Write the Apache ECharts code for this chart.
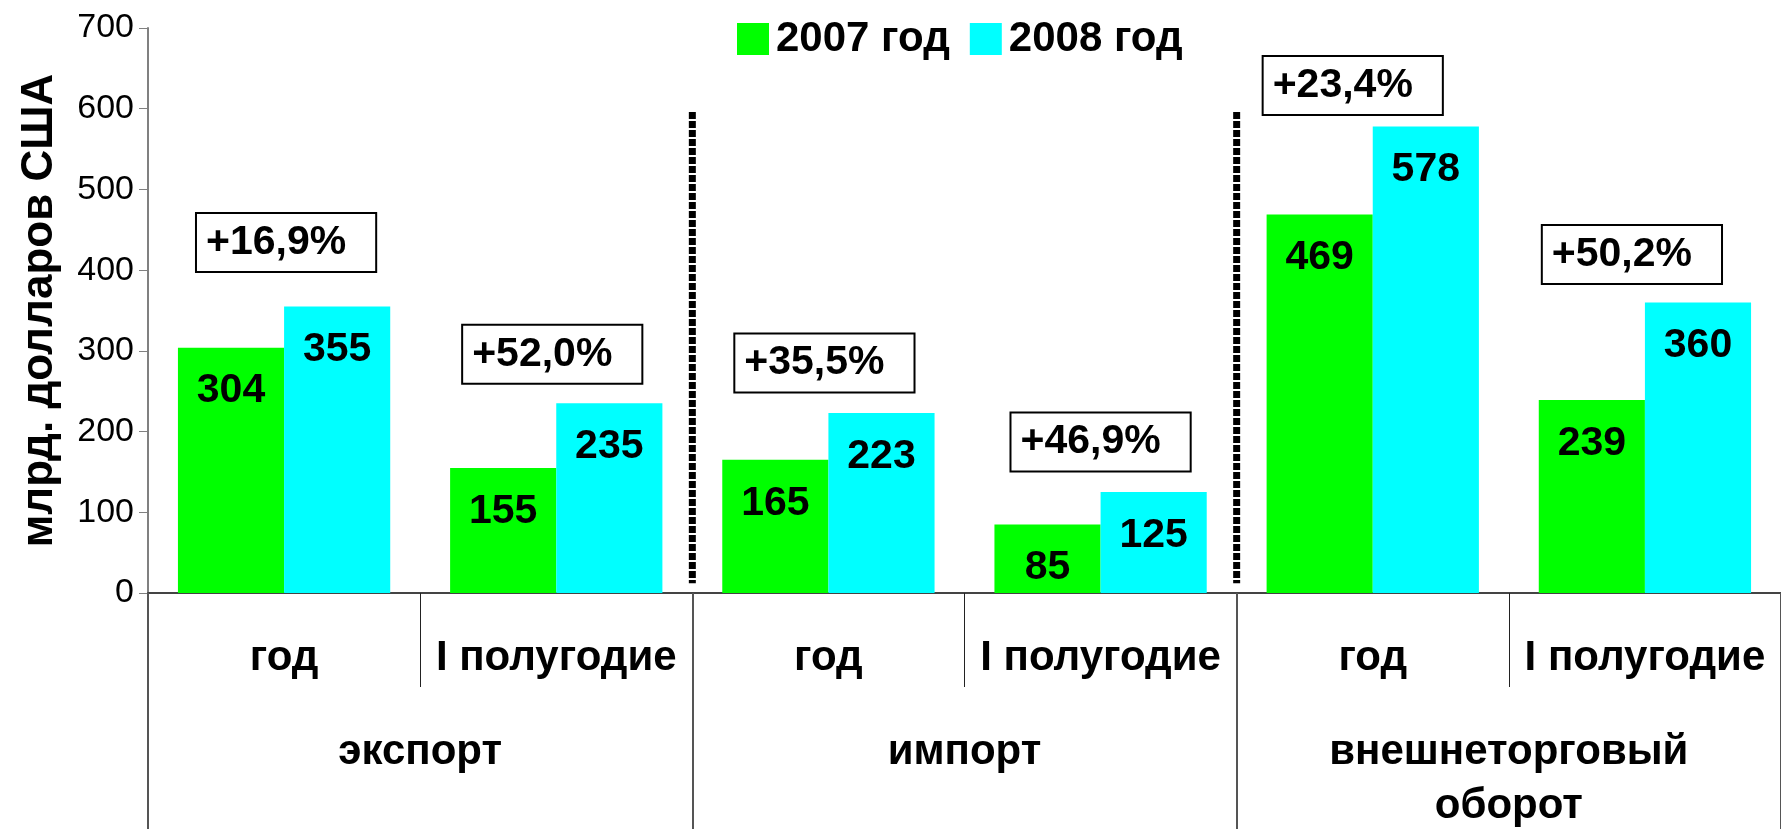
<!DOCTYPE html>
<html>
<head>
<meta charset="utf-8">
<script src="https://cdn.jsdelivr.net/npm/echarts@6/dist/echarts.min.js"></script>
<style>
html,body{margin:0;padding:0;background:#fff;}
#chart{width:1781px;height:829px;}
</style>
</head>
<body>
<div id="chart"></div>
<script>
// ---- data ----
const subCategories = ['год', 'I полугодие', 'год', 'I полугодие', 'год', 'I полугодие'];
const groups = ['экспорт', 'импорт', 'внешнеторговый\nоборот'];
const groupSize = [2, 2, 2];
const seriesNames = ['2007 год', '2008 год'];
const values2007 = [304, 155, 165, 85, 469, 239];
const values2008 = [355, 235, 223, 125, 578, 360];
const growthLabels = ['+16,9%', '+52,0%', '+35,5%', '+46,9%', '+23,4%', '+50,2%'];
const yMin = 0, yMax = 700, yStep = 100;
const yName = 'млрд. долларов США';

// ---- layout tweaks (not data) ----
const boxLift = [35, 20, 21, 21, 12, 19];
const boxShift = [2, -4, -4, 0, -20, -13];
const sepTop = 596, sepBottom = 12;

const FONT = '"Liberation Sans", Arial, sans-serif';
const chart = echarts.init(document.getElementById('chart'));

// separators between groups
const sepSeries = [];
let acc = 0;
for (let g = 0; g < groupSize.length - 1; g++) {
  acc += groupSize[g];
  sepSeries.push({
    type: 'line', xAxisIndex: 2, yAxisIndex: 0, silent: true,
    symbol: 'none', z: 5,
    lineStyle: { color: '#000', width: 7, type: [7, 2], cap: 'butt', opacity: 1 },
    data: [[acc, sepTop], [acc, sepBottom]]
  });
}

const option = {
  backgroundColor: '#fff',
  animation: false,
  textStyle: { fontFamily: FONT },
  legend: {
    data: seriesNames,
    left: 732, top: 13,
    itemWidth: 32, itemHeight: 32, itemGap: 20,
    icon: 'rect',
    textStyle: { fontSize: 42, fontWeight: 'bold', color: '#000', fontFamily: FONT, padding: [0, 0, 0, 2] }
  },
  grid: { left: 148, right: 0, top: 28, bottom: 236, containLabel: false, outerBoundsMode: 'none' },
  xAxis: [
    {
      type: 'category', data: subCategories, position: 'bottom',
      axisLine: { show: true, lineStyle: { color: '#444', width: 2 } },
      axisTick: { show: true, interval: 0, length: 94, lineStyle: { color: '#222', width: 1 } },
      axisLabel: { interval: 0, margin: 44, fontSize: 42, fontWeight: 'bold', color: '#000', fontFamily: FONT }
    },
    {
      type: 'category', data: groups, position: 'bottom',
      axisLine: { show: false },
      axisTick: { show: true, interval: 0, length: 240, lineStyle: { color: '#555', width: 2 } },
      axisLabel: { interval: 0, margin: 132, lineHeight: 54, fontSize: 42, fontWeight: 'bold', color: '#000', fontFamily: FONT }
    },
    {
      type: 'value', min: 0, max: subCategories.length, position: 'top', show: false
    }
  ],
  yAxis: {
    type: 'value', min: yMin, max: yMax, interval: yStep,
    name: yName, nameLocation: 'middle', nameRotate: 90, nameGap: 86,
    nameTextStyle: { fontSize: 44, fontWeight: 'bold', color: '#000', fontFamily: FONT },
    axisLine: { show: true, lineStyle: { color: '#808080', width: 2 } },
    axisTick: { show: true, length: 9, lineStyle: { color: '#808080', width: 1 } },
    axisLabel: { fontSize: 34, margin: 14, color: '#000', fontFamily: FONT },
    splitLine: { show: false }
  },
  series: [
    {
      name: seriesNames[0], type: 'bar', data: values2007,
      barGap: '0%', barCategoryGap: '22%',
      itemStyle: { color: '#00FF00' },
      label: { show: true, position: 'insideTop', distance: 23, fontSize: 41, fontWeight: 'bold', color: '#000', fontFamily: FONT }
    },
    {
      name: seriesNames[1], type: 'bar', data: values2008,
      barGap: '0%', barCategoryGap: '22%',
      itemStyle: { color: '#00FFFF' },
      label: { show: true, position: 'insideTop', distance: 23, fontSize: 41, fontWeight: 'bold', color: '#000', fontFamily: FONT }
    },
    {
      name: 'growth', type: 'scatter', symbolSize: 1, z: 10, silent: true,
      itemStyle: { color: 'transparent', opacity: 1 },
      data: values2008.map((v, i) => ({
        value: [i, v],
        label: {
          show: true, position: 'top', distance: boxLift[i], offset: [boxShift[i], 0],
          formatter: growthLabels[i], opacity: 1,
          fontSize: 41, fontWeight: 'bold', color: '#000', fontFamily: FONT,
          textBorderWidth: 0, textShadowBlur: 0,
          backgroundColor: '#fff', borderColor: '#000', borderWidth: 2,
          padding: [8, 29, 8, 9]
        }
      }))
    }
  ].concat(sepSeries)
};
chart.setOption(option);
</script>
</body>
</html>
